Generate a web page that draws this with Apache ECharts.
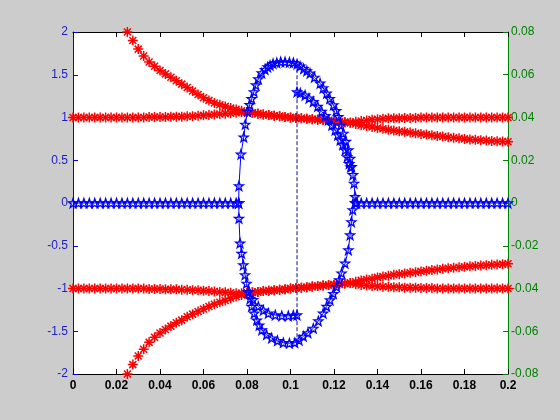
<!DOCTYPE html>
<html>
<head>
<meta charset="utf-8">
<script src="https://cdn.jsdelivr.net/npm/echarts@6.0.0/dist/echarts.min.js"></script>
<style>
  html, body { margin: 0; padding: 0; background: #cccccc; }
  #chart { width: 560px; height: 420px; }
</style>
</head>
<body>
<div id="chart"></div>
<script>
// sample grid for the red branches and the blue zero line
var xGrid = [
  0, 0.0025, 0.005, 0.0075, 0.01, 0.0125, 0.015, 0.0175, 0.02, 0.0225,
  0.025, 0.0275, 0.03, 0.0325, 0.035, 0.0375, 0.04, 0.0425, 0.045, 0.0475,
  0.05, 0.0525, 0.055, 0.0575, 0.06, 0.0625, 0.065, 0.0675, 0.07, 0.0725,
  0.075, 0.0775, 0.08, 0.0825, 0.085, 0.0875, 0.09, 0.0925, 0.095, 0.0975,
  0.1, 0.1025, 0.105, 0.1075, 0.11, 0.1125, 0.115, 0.1175, 0.12, 0.1225,
  0.125, 0.1275, 0.13, 0.1325, 0.135, 0.1375, 0.14, 0.1425, 0.145, 0.1475,
  0.15, 0.1525, 0.155, 0.1575, 0.16, 0.1625, 0.165, 0.1675, 0.17, 0.1725,
  0.175, 0.1775, 0.18, 0.1825, 0.185, 0.1875, 0.19, 0.1925, 0.195, 0.1975, 0.2
]

// red: upper pair
var redUpA = [
  1.0, 1.0, 1.0, 1.0, 1.0, 1.0, 1.0, 1.0, 1.0, 1.0,
  1.0, 1.0, 1.0, 1.0, 1.005, 1.005, 1.005, 1.005, 1.01, 1.01,
  1.01, 1.015, 1.015, 1.02, 1.025, 1.03, 1.035, 1.04, 1.045, 1.05,
  1.055, 1.06, 1.065, 1.055, 1.045, 1.035, 1.03, 1.02, 1.015, 1.005,
  1.0, 0.995, 0.99, 0.985, 0.98, 0.975, 0.97, 0.965, 0.955, 0.95,
  0.945, 0.94, 0.95, 0.96, 0.965, 0.975, 0.98, 0.985, 0.99, 0.99,
  0.99, 0.995, 0.995, 0.995, 1.0, 1.0, 1.0, 1.0, 1.0, 1.0,
  1.0, 1.0, 1.0, 1.0, 1.0, 1.0, 1.0, 1.0, 1.0, 1.0, 1.0
]
var redUpB = [
  null, null, null, null, null, null, null, null, null, null,
  2.0, 1.90, 1.80, 1.72, 1.65, 1.60, 1.55, 1.51, 1.47, 1.43,
  1.39, 1.35, 1.31, 1.27, 1.23, 1.20, 1.17, 1.15, 1.13, 1.11,
  1.095, 1.08, 1.065, 1.055, 1.045, 1.035, 1.03, 1.02, 1.015, 1.005,
  1.0, 0.995, 0.99, 0.985, 0.98, 0.975, 0.97, 0.965, 0.955, 0.95,
  0.945, 0.94, 0.925, 0.91, 0.90, 0.89, 0.878, 0.868, 0.858, 0.848,
  0.84, 0.832, 0.824, 0.815, 0.807, 0.80, 0.792, 0.785, 0.777, 0.77,
  0.763, 0.757, 0.75, 0.744, 0.74, 0.735, 0.73, 0.726, 0.722, 0.72, 0.717
]
// red: lower pair
var redLowA = [
  -1.0, -1.0, -1.0, -1.0, -1.0, -1.0, -1.0, -1.0, -1.0, -1.0,
  -1.0, -1.0, -1.0, -1.0, -1.005, -1.005, -1.005, -1.01, -1.01, -1.01,
  -1.015, -1.015, -1.02, -1.02, -1.025, -1.03, -1.035, -1.04, -1.045, -1.05,
  -1.055, -1.055, -1.05, -1.045, -1.04, -1.03, -1.025, -1.02, -1.015, -1.01,
  -1.0, -0.995, -0.99, -0.985, -0.978, -0.972, -0.966, -0.96, -0.955, -0.95,
  -0.942, -0.935, -0.95, -0.96, -0.965, -0.97, -0.975, -0.98, -0.98, -0.985,
  -0.985, -0.99, -0.99, -0.99, -0.995, -0.995, -0.995, -1.0, -1.0, -1.0,
  -1.0, -1.0, -1.0, -1.0, -1.0, -1.0, -1.0, -1.0, -1.0, -1.0, -1.0
]
var redLowB = [
  null, null, null, null, null, null, null, null, null, null,
  -2.0, -1.89, -1.79, -1.71, -1.63, -1.57, -1.52, -1.48, -1.44, -1.40,
  -1.37, -1.33, -1.30, -1.27, -1.24, -1.21, -1.185, -1.16, -1.14, -1.115,
  -1.095, -1.075, -1.05, -1.045, -1.04, -1.03, -1.025, -1.02, -1.015, -1.01,
  -1.0, -0.995, -0.99, -0.985, -0.978, -0.972, -0.966, -0.96, -0.955, -0.95,
  -0.942, -0.935, -0.92, -0.905, -0.895, -0.885, -0.87, -0.86, -0.85, -0.84,
  -0.832, -0.824, -0.816, -0.81, -0.80, -0.792, -0.785, -0.778, -0.77, -0.763,
  -0.757, -0.751, -0.746, -0.741, -0.736, -0.731, -0.727, -0.723, -0.719, -0.715, -0.71
]

// blue: zero line on both sides of the loop
var blueZero = [
  0, 0, 0, 0, 0, 0, 0, 0, 0, 0,
  0, 0, 0, 0, 0, 0, 0, 0, 0, 0,
  0, 0, 0, 0, 0, 0, 0, 0, 0, 0,
  0, null, null, null, null, null, null, null, null, null,
  null, null, null, null, null, null, null, null, null, null,
  null, null, 0, 0, 0, 0, 0, 0, 0, 0,
  0, 0, 0, 0, 0, 0, 0, 0, 0, 0,
  0, 0, 0, 0, 0, 0, 0, 0, 0, 0, 0
]
// blue loop [x, y]
var blueOuterUp = [
  [0.0762, 0], [0.0763, 0.20], [0.0772, 0.57], [0.0785, 0.77], [0.0792, 0.92],
  [0.0803, 1.07], [0.0812, 1.15], [0.0821, 1.22], [0.0832, 1.30], [0.0841, 1.38],
  [0.0852, 1.45], [0.0868, 1.52], [0.0883, 1.56], [0.0895, 1.59], [0.0906, 1.61],
  [0.092, 1.63], [0.0937, 1.64], [0.0955, 1.65], [0.0975, 1.65], [0.0995, 1.645],
  [0.1013, 1.64], [0.103, 1.625], [0.1044, 1.60], [0.106, 1.57], [0.1075, 1.545],
  [0.109, 1.517], [0.111, 1.47], [0.1136, 1.40], [0.115, 1.345], [0.1166, 1.283],
  [0.118, 1.22], [0.1197, 1.146], [0.121, 1.08], [0.122, 1.01], [0.1232, 0.91],
  [0.1243, 0.815], [0.1255, 0.72], [0.1266, 0.62], [0.1274, 0.52], [0.1281, 0.425],
  [0.1287, 0.33], [0.1292, 0.23], [0.1297, 0.074], [0.1304, 0]
]
var blueInnerUp = [
  [0.103, 1.30], [0.1045, 1.285], [0.1067, 1.26], [0.1085, 1.225], [0.1105, 1.185],
  [0.1125, 1.13], [0.1143, 1.07], [0.116, 1.02], [0.1174, 0.97], [0.119, 0.91],
  [0.1205, 0.854], [0.1217, 0.795], [0.1228, 0.737], [0.124, 0.68], [0.1251, 0.62],
  [0.1261, 0.54], [0.127, 0.46], [0.1276, 0.42]
]
var blueOuterDown = [
  [0.0762, 0], [0.0763, -0.18], [0.0768, -0.47], [0.0775, -0.59], [0.0783, -0.725],
  [0.0791, -0.84], [0.0798, -0.94], [0.0806, -1.04], [0.0814, -1.12], [0.0821, -1.21],
  [0.0833, -1.29], [0.0845, -1.37], [0.0856, -1.43], [0.0868, -1.485], [0.089, -1.54],
  [0.0913, -1.58], [0.094, -1.61], [0.0967, -1.634], [0.0995, -1.64], [0.102, -1.634],
  [0.104, -1.605], [0.1059, -1.56], [0.108, -1.52], [0.1105, -1.466], [0.1128, -1.38],
  [0.115, -1.29], [0.1166, -1.21], [0.1182, -1.135], [0.1197, -1.06], [0.1212, -0.98],
  [0.1224, -0.90], [0.1235, -0.82], [0.1251, -0.705], [0.1266, -0.55], [0.1274, -0.374],
  [0.128, -0.22], [0.1286, -0.08], [0.1297, 0]
]
var blueInnerDown = [
  [0.0806, -1.04], [0.0828, -1.13], [0.0852, -1.21], [0.0875, -1.255], [0.0898, -1.29],
  [0.093, -1.31], [0.096, -1.32], [0.099, -1.32], [0.1013, -1.315], [0.103, -1.31]
]
var blueJump = [[0.103, 1.635], [0.103, -1.64]]

// axes
var xRange = [0, 0.2, 0.02]
var leftRange = [-2, 2, 0.5]
var rightRange = [-0.08, 0.08, 0.02]

var RED = '#ff0000'
var BLUE = '#0000ff'
var LEFTC = '#1c1cc8'
var GREEN = '#008000'
var FONT = 'Liberation Sans'

// outlined symbols like matlab markers
var starPath = 'path://M5,0L6.18,3.38L9.76,3.45L6.9,5.62L7.94,9.05L5,7L2.06,9.05L3.1,5.62L0.24,3.45L3.82,3.38Z'
var asteriskPath = 'path://M0,5L10,5M5,0L5,10M1.5,1.5L8.5,8.5M8.5,1.5L1.5,8.5'

function pairs(ys) {
  var out = []
  for (var i = 0; i < xGrid.length; i++) {
    out.push([xGrid[i], ys[i]])
  }
  return out
}

function redSeries(ys) {
  return {
    type: 'scatter',
    data: pairs(ys),
    symbol: asteriskPath,
    symbolSize: 10,
    itemStyle: { color: 'rgba(0,0,0,0)', borderColor: RED, borderWidth: 1.5, opacity: 1 },
    silent: true,
    z: 2
  }
}

function blueSeries(data) {
  return {
    type: 'line',
    data: data,
    symbol: starPath,
    symbolSize: 9,
    showAllSymbol: true,
    connectNulls: false,
    lineStyle: { color: BLUE, width: 1 },
    itemStyle: { color: 'rgba(0,0,0,0)', borderColor: BLUE, borderWidth: 1.3 },
    silent: true,
    z: 3
  }
}

var chart = echarts.init(document.getElementById('chart'))
chart.setOption({
  animation: false,
  backgroundColor: '#cccccc',
  grid: {
    left: 73, right: 52, top: 32, bottom: 46,
    show: true, backgroundColor: '#ffffff', borderWidth: 0
  },
  xAxis: [{
    type: 'value',
    position: 'bottom',
    min: xRange[0], max: xRange[1], interval: xRange[2],
    axisLine: { onZero: false, lineStyle: { color: '#000', width: 1 } },
    axisTick: { inside: true, length: 5, lineStyle: { color: '#000' } },
    axisLabel: { color: '#000', fontSize: 12, fontWeight: 'bold', fontFamily: FONT, margin: 6 },
    splitLine: { show: false }
  }, {
    type: 'value',
    position: 'top',
    min: xRange[0], max: xRange[1], interval: xRange[2],
    axisLine: { onZero: false, lineStyle: { color: '#000', width: 1 } },
    axisTick: { inside: true, length: 5, lineStyle: { color: '#000' } },
    axisLabel: { show: false },
    splitLine: { show: false }
  }],
  yAxis: [{
    type: 'value',
    position: 'left',
    min: leftRange[0], max: leftRange[1], interval: leftRange[2],
    axisLine: { show: true, onZero: false, lineStyle: { color: BLUE, width: 1 } },
    axisTick: { show: true, inside: true, length: 5, lineStyle: { color: BLUE } },
    axisLabel: { color: LEFTC, fontSize: 12, fontFamily: FONT, margin: 5 },
    splitLine: { show: false }
  }, {
    type: 'value',
    position: 'right',
    min: rightRange[0], max: rightRange[1], interval: rightRange[2],
    axisLine: { show: true, onZero: false, lineStyle: { color: GREEN, width: 1 } },
    axisTick: { show: true, inside: true, length: 5, lineStyle: { color: GREEN } },
    axisLabel: { color: GREEN, fontSize: 12, fontFamily: FONT, margin: 3 },
    splitLine: { show: false }
  }],
  series: [
    redSeries(redUpA),
    redSeries(redUpB),
    redSeries(redLowA),
    redSeries(redLowB),
    blueSeries(pairs(blueZero)),
    blueSeries(blueOuterUp),
    blueSeries(blueInnerUp),
    blueSeries(blueOuterDown),
    blueSeries(blueInnerDown),
    {
      type: 'line',
      data: blueJump,
      symbol: 'none',
      lineStyle: { color: '#10107a', width: 1, type: [4, 2] },
      silent: true,
      z: 3
    }
  ]
})
</script>
</body>
</html>
